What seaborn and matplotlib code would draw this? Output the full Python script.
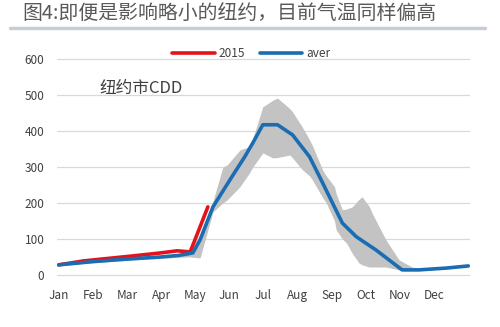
import numpy as np
import pandas as pd
import matplotlib
matplotlib.use("Agg")
import matplotlib.pyplot as plt
import seaborn as sns

# Month positions (fractional months from start of January) and CDD values
months = ["Jan", "Feb", "Mar", "Apr", "May", "Jun", "Jul", "Aug", "Sep", "Oct", "Nov", "Dec"]

avg_x = [0, 1, 2, 3, 3.5, 3.93, 4.14, 4.52, 5.07, 5.45, 5.69, 5.98, 6.41, 6.85,
         7.35, 7.73, 8.31, 8.72, 9.3, 10.06, 10.55, 11.35, 12]
avg_y = [28, 37, 44, 50, 54, 61, 97, 189, 272, 328, 367, 417, 417, 389,
         328, 256, 144, 106, 69, 14, 14, 19, 25]

y2015_x = [0, 0.73, 2.19, 2.97, 3.47, 3.85, 3.99, 4.37]
y2015_y = [28, 39, 53, 61, 67, 64, 97, 189]

band_x = [0, 1, 2, 3, 3.5, 3.85, 4.14, 4.52, 4.81, 4.93, 5.31, 5.39, 5.6, 5.69,
          5.98, 6.27, 6.41, 6.77, 6.85, 7.14, 7.35, 7.43, 7.73, 7.84, 8.08,
          8.13, 8.31, 8.43, 8.6, 8.8, 8.89, 9.1, 9.18, 9.59, 9.97, 10.35,
          10.64, 11.35, 12]
band_hi = [31, 40, 47, 54, 58, 66, 112, 205, 300, 305, 347, 350, 356, 380,
           467, 485, 491, 462, 453, 410, 375, 360, 292, 275, 245,
           225, 181, 183, 189, 210, 217, 190, 172, 97, 42, 22,
           17, 20, 26]
band_lo = [26, 34, 41, 46, 49, 50, 47, 175, 200, 208, 245, 256, 285, 300,
           339, 325, 326, 333, 325, 292, 275, 264, 215, 200, 150,
           125, 100, 89, 60, 33, 28, 22, 22, 22, 14, 14,
           13, 18, 24]

sns.set_theme(style="white")
plt.rcParams["font.family"] = ["Noto Sans CJK SC", "DejaVu Sans"]

fig = plt.figure(figsize=(5.0, 3.27), dpi=100)
ax = fig.add_axes([0.114, 0.146, 0.826, 0.696])

ax.fill_between(band_x, band_lo, band_hi, color="#c3c3c3", linewidth=0, zorder=1)

df_avg = pd.DataFrame({"m": avg_x, "cdd": avg_y})
df_15 = pd.DataFrame({"m": y2015_x, "cdd": y2015_y})
sns.lineplot(data=df_15, x="m", y="cdd", ax=ax, color="#e3131b", linewidth=2.6,
             label="2015", zorder=3)
sns.lineplot(data=df_avg, x="m", y="cdd", ax=ax, color="#1a6db3", linewidth=2.6,
             label="aver", zorder=4)

ax.set_xlim(-0.05, 12.05)
ax.set_ylim(-12, 620)
ax.set_yticks(range(0, 601, 100))
ax.set_xticks(range(12))
ax.set_xticklabels(months)
ax.set_xlabel("")
ax.set_ylabel("")
ax.yaxis.grid(True, color="#d9d9d9", linewidth=0.9)
ax.xaxis.grid(False)
for s in ax.spines.values():
    s.set_visible(False)
ax.tick_params(axis="both", length=0, labelsize=8.5, colors="#404040")
ax.tick_params(axis="x", pad=7)
ax.tick_params(axis="y", pad=9)

ax.text(1.2, 518, "纽约市CDD", fontsize=12, color="#404040", va="center", ha="left")

leg = ax.legend(loc="center", bbox_to_anchor=(0.47, 0.99), ncol=2, frameon=False,
                fontsize=8.5, handlelength=3.6, columnspacing=1.3, handletextpad=0.3,
                borderaxespad=0)
for t in leg.get_texts():
    t.set_color("#404040")

fig.text(0.044, 0.957, "图4:即便是影响略小的纽约，目前气温同样偏高", fontsize=14.3,
         color="#595959", va="center", ha="left")
fig.add_artist(plt.Line2D([0.02, 0.97], [0.915, 0.915], color="#c5ced8",
                          linewidth=2.5, transform=fig.transFigure))

fig.savefig("out.png", dpi=100)
